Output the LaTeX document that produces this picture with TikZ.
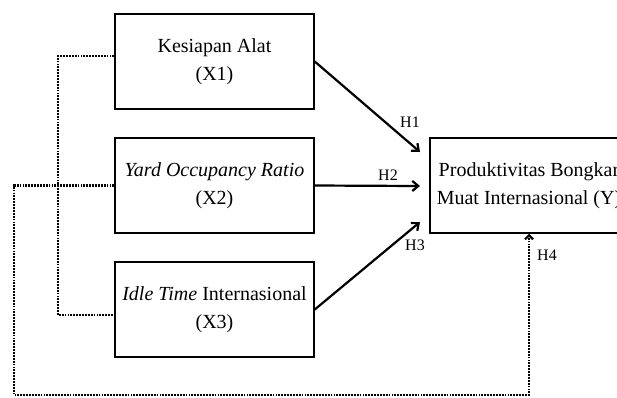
\documentclass[tikz,border=0pt]{standalone}
\usepackage{fontspec}
\setmainfont{Liberation Serif}
\usetikzlibrary{arrows.meta}
\begin{document}
\begin{tikzpicture}[x=1pt,y=-1pt,
  box/.style={draw, line width=1.5pt, inner sep=0pt, minimum width=199pt, minimum height=95pt,
              align=center, font=\fontsize{20}{28}\selectfont},
  hlabel/.style={font=\fontsize{16}{18}\selectfont, inner sep=0pt},
  solidarrow/.style={line width=2.2pt, -{Straight Barb[length=6pt,width=10pt,line width=2.2pt]}},
  dotline/.style={line width=2.6pt, dash pattern=on 1.8pt off 1.1pt},
  dotarrow/.style={dotline, -{Straight Barb[length=4pt,width=8pt,line width=2.2pt]}}]
  \useasboundingbox (0,0) rectangle (617,397);
  \clip (0,0) rectangle (617,397);
  \fill[white] (0,0) rectangle (617,397);

  % variable boxes
  \node[box] (x1) at (214.5,61.5) {Kesiapan Alat\\(X1)};
  \node[box] (x2) at (214.5,185.5) {\textit{Yard Occupancy Ratio}\\(X2)};
  \node[box] (x3) at (214.5,309.5) {\textit{Idle Time} Internasional\\(X3)};
  \node[box, minimum width=198pt] (yy) at (529,185.5) {Produktivitas Bongkar\\Muat Internasional (Y)};

  % arrow tips on the left side of Y
  \coordinate (t1) at (420,152);
  \coordinate (t2) at (420,186);
  \coordinate (t3) at (420,222);

  \draw[solidarrow] (x1.east) -- (t1);
  \draw[solidarrow] (x2.east) -- (t2);
  \draw[solidarrow] (x3.east) -- (t3);

  \node[hlabel] (h1) at (410,122) {H1};
  \node[hlabel] (h2) at (388,175) {H2};
  \node[hlabel] (h3) at (415,245) {H3};
  \node[hlabel, anchor=west] (h4) at (537,255) {H4};

  % dotted link between X1 and X3
  \coordinate (k1) at (58,56);
  \draw[dotline] ([yshift=5.5pt]x1.west) -- (k1) |- ([yshift=-5.5pt]x3.west);

  % dotted moderation path from X2 to Y
  \coordinate (k2) at (14,395);
  \draw[dotarrow] (x2.west) -| (k2) -| (yy.south);
\end{tikzpicture}
\end{document}
